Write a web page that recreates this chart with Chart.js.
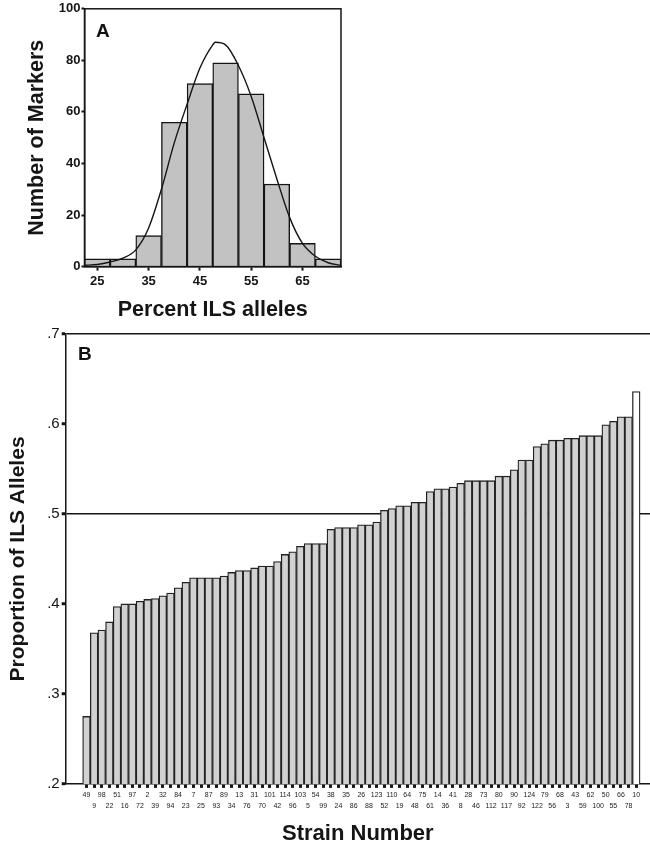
<!DOCTYPE html>
<html>
<head>
<meta charset="utf-8">
<script src="https://cdn.jsdelivr.net/npm/chart.js@4.4.1/dist/chart.umd.min.js"></script>
<style>
  html, body { margin: 0; padding: 0; background: #fff; }
  #wrap { position: relative; width: 650px; height: 847px; font-family: "Liberation Sans", Arial, sans-serif; }
  #boxA { position: absolute; left: 0; top: 0; width: 360px; height: 326px; }
  #boxB { position: absolute; left: 0; top: 312px; width: 650px; height: 535px; }
  .panel { position: absolute; font-weight: bold; font-size: 19px; color: #111; }
</style>
</head>
<body>
<div id="wrap">
  <div id="boxB"><canvas id="chartB"></canvas></div>
  <div id="boxA"><canvas id="chartA"></canvas></div>
  <div class="panel" style="left:96px; top:20px;">A</div>
  <div class="panel" style="left:78px; top:343px;">B</div>
</div>
<script>
// panel A - histogram of markers by percent ILS alleles
const binCenters = [25, 30, 35, 40, 45, 50, 55, 60, 65, 70];
const binCounts = [3, 3, 12, 56, 71, 79, 67, 32, 9, 3];
// fitted curve
const curveX = [22.5, 25, 27.5, 30, 32.5, 35, 37.5, 40, 42.5, 45, 47.5, 48, 50, 52.5, 55, 57.5, 60, 62.5, 65, 67.5, 70, 72.5];
const curveY = [0.5, 0.8, 1.8, 3.3, 6.5, 15, 30, 48, 63, 77, 86, 87, 86, 78, 66, 50, 34, 19, 9, 4, 1.5, 0.5];
const histTicks = [25, 35, 45, 55, 65];
const countTicks = [0, 20, 40, 60, 80, 100];

// panel B - proportion of ILS alleles per strain
const strainLabels = ['49', '9', '98', '22', '51', '16', '97', '72', '2', '39', '32', '94', '84', '23', '7', '25',
  '87', '93', '89', '34', '13', '76', '31', '70', '101', '42', '114', '96', '103', '5', '54', '99', '38', '24',
  '35', '86', '26', '88', '123', '52', '110', '19', '64', '48', '75', '61', '14', '36', '41', '8', '28', '46',
  '73', '112', '80', '117', '90', '92', '124', '122', '79', '56', '68', '3', '43', '59', '62', '100', '50', '55',
  '66', '78', '10'];
const ilsProportion = [0.275, 0.368, 0.371, 0.380, 0.397, 0.400, 0.400, 0.403, 0.405, 0.406, 0.409, 0.412, 0.418,
  0.424, 0.429, 0.429, 0.429, 0.429, 0.431, 0.435, 0.437, 0.437, 0.440, 0.442, 0.442, 0.447, 0.455, 0.458, 0.464,
  0.467, 0.467, 0.467, 0.483, 0.485, 0.485, 0.485, 0.488, 0.488, 0.491, 0.504, 0.506, 0.509, 0.509, 0.513, 0.513,
  0.525, 0.528, 0.528, 0.530, 0.534, 0.537, 0.537, 0.537, 0.537, 0.542, 0.542, 0.549, 0.560, 0.560, 0.575, 0.578,
  0.582, 0.582, 0.584, 0.584, 0.587, 0.587, 0.587, 0.599, 0.603, 0.608, 0.608, 0.636];
const proportionTicks = [0.2, 0.3, 0.4, 0.5, 0.6, 0.7];
const refLines = [0.5, 0.7];

const FONT = '"Liberation Sans", Arial, sans-serif';
const INK = '#151515';

// box around the plot of panel A
const frame = {
  id: 'frame',
  afterDatasetsDraw(chart) {
    const a = chart.chartArea, c = chart.ctx;
    c.save();
    c.strokeStyle = INK;
    c.lineWidth = 1.5;
    c.strokeRect(a.left, a.top, a.right - a.left, a.bottom - a.top);
    c.restore();
  }
};

new Chart(document.getElementById('chartA'), {
  data: {
    datasets: [
      {
        type: 'line',
        data: curveX.map((x, i) => ({ x: x, y: curveY[i] })),
        borderColor: INK,
        borderWidth: 1.4,
        pointRadius: 0,
        cubicInterpolationMode: 'monotone',
        order: 0
      },
      {
        type: 'bar',
        data: binCenters.map((x, i) => ({ x: x, y: binCounts[i] })),
        backgroundColor: '#c2c2c2',
        borderColor: INK,
        borderWidth: 1.4,
        barPercentage: 1,
        categoryPercentage: 1,
        order: 1
      }
    ]
  },
  options: {
    responsive: true,
    maintainAspectRatio: false,
    animation: false,
    layout: { padding: { top: 8, right: 19, bottom: 3, left: 24 } },
    plugins: { legend: { display: false }, tooltip: { enabled: false } },
    scales: {
      x: {
        type: 'linear',
        offset: false,
        min: 22.5,
        max: 72.5,
        afterBuildTicks: s => { s.ticks = histTicks.map(v => ({ value: v })); },
        grid: { drawOnChartArea: false, offset: false, tickLength: 4, tickWidth: 2, color: INK },
        border: { color: INK, width: 1.5 },
        ticks: { color: INK, padding: 3, font: { family: FONT, size: 13, weight: 'bold' } },
        title: { display: true, text: 'Percent ILS alleles', color: INK, padding: { top: 5, bottom: 0 },
          font: { family: FONT, size: 21.5, weight: 'bold' } }
      },
      y: {
        min: 0,
        max: 100,
        afterBuildTicks: s => { s.ticks = countTicks.map(v => ({ value: v })); },
        grid: { drawOnChartArea: false, tickLength: 3, tickWidth: 2, color: INK },
        border: { color: INK, width: 1.5 },
        ticks: { color: INK, padding: 1, font: { family: FONT, size: 13, weight: 'bold' } },
        title: { display: true, text: 'Number of Markers', color: INK, padding: { top: 0, bottom: 8 },
          font: { family: FONT, size: 21.5, weight: 'bold' } }
      }
    }
  },
  plugins: [frame]
});

new Chart(document.getElementById('chartB'), {
  type: 'bar',
  data: {
    datasets: [{
      data: ilsProportion.map((v, i) => ({ x: i + 1, y: v })),
      backgroundColor: ctx => ctx.dataIndex === ilsProportion.length - 1 ? '#ffffff' : '#d1d1d1',
      borderColor: '#222',
      borderWidth: 1.3,
      barPercentage: 1,
      categoryPercentage: 1
    }]
  },
  options: {
    responsive: true,
    maintainAspectRatio: false,
    animation: false,
    layout: { padding: { top: 22, right: 0, bottom: 0, left: 6 } },
    plugins: { legend: { display: false }, tooltip: { enabled: false } },
    scales: {
      x: {
        type: 'linear',
        offset: false,
        min: -1.72,
        max: 74.8,
        afterBuildTicks: s => { s.ticks = strainLabels.map((_, i) => ({ value: i + 1 })); },
        grid: { drawOnChartArea: false, offset: false, tickLength: 4, tickWidth: 3, color: INK },
        border: { color: INK, width: 1.5 },
        ticks: {
          autoSkip: false,
          maxRotation: 0,
          minRotation: 0,
          color: '#222',
          padding: 2,
          font: { family: FONT, size: 7, lineHeight: 1.55 },
          callback: v => {
            const i = Math.round(v) - 1;
            return i % 2 === 0 ? [strainLabels[i], ''] : ['', strainLabels[i]];
          }
        },
        title: { display: true, text: 'Strain Number', color: INK, padding: { top: 7, bottom: 0 },
          font: { family: FONT, size: 22, weight: 'bold' } }
      },
      y: {
        min: 0.2,
        max: 0.7,
        afterBuildTicks: s => { s.ticks = proportionTicks.map(v => ({ value: v })); },
        grid: {
          color: c => (c.tick && refLines.includes(c.tick.value)) ? INK : 'rgba(0,0,0,0)',
          tickColor: INK,
          lineWidth: 1.5,
          tickLength: 4,
          tickWidth: 3
        },
        border: { color: INK, width: 1.5 },
        ticks: {
          color: INK,
          padding: 2,
          font: { family: FONT, size: 15 },
          callback: v => v.toFixed(1).replace(/^0/, '')
        },
        title: { display: true, text: 'Proportion of ILS Alleles', color: INK, padding: { top: 0, bottom: 14 },
          font: { family: FONT, size: 21, weight: 'bold' } }
      }
    }
  }
});
</script>
</body>
</html>
